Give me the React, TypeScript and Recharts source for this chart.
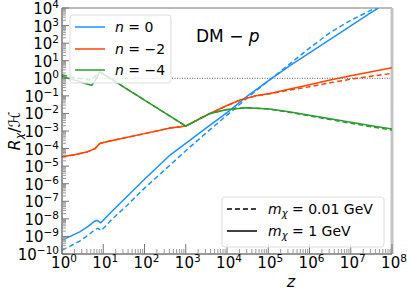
import React from "react";
import { LineChart, Line, XAxis, YAxis, ReferenceLine } from "recharts";

// all values are read as log10 exponents off the picture
const blueSolidZ = [0, 0.2, 0.44, 0.65, 0.78, 0.85, 0.94, 1.2, 1.57, 2.0, 2.62, 3.0, 3.5, 4.0, 4.5, 5.0, 5.5, 6.0, 6.5, 7.0, 7.5, 7.67];
const blueSolidR = [-9.2, -9.0, -8.73, -8.4, -8.15, -8.08, -8.22, -7.6, -6.74, -5.75, -4.37, -3.7, -2.82, -1.95, -1.0, -0.15, 0.68, 1.45, 2.22, 2.98, 3.75, 4.0];

const blueDashZ = [0, 0.2, 0.44, 0.65, 0.8, 0.87, 0.95, 1.2, 1.57, 2.0, 2.62, 3.02, 3.5, 4.0, 4.5, 5.0, 5.5, 6.0, 6.5, 7.0, 7.6];
const blueDashR = [-9.77, -9.55, -9.25, -8.9, -8.6, -8.54, -8.67, -8.05, -7.25, -6.25, -4.94, -4.08, -3.1, -2.1, -1.1, -0.15, 0.78, 1.72, 2.6, 3.3, 4.0];

const orangeSolidZ = [0, 0.3, 0.6, 0.8, 0.9, 0.95, 1.5, 2.0, 2.62, 3.0, 3.5, 4.0, 4.32, 4.7, 5.04, 5.5, 6.0, 6.5, 7.0, 7.5, 8.0];
const orangeSolidR = [-4.46, -4.35, -4.2, -4.0, -3.75, -3.68, -3.4, -3.15, -2.83, -2.72, -2.1, -1.55, -1.24, -1.0, -0.86, -0.62, -0.37, -0.1, 0.15, 0.37, 0.6];

const orangeDashZ = [0, 0.3, 0.6, 0.8, 0.9, 0.95, 1.5, 2.0, 2.62, 3.0, 3.5, 4.0, 4.32, 4.7, 5.04, 5.5, 6.0, 6.5, 7.0, 7.5, 8.0];
const orangeDashR = [-4.46, -4.35, -4.2, -4.0, -3.75, -3.68, -3.4, -3.15, -2.83, -2.72, -2.1, -1.55, -1.24, -1.0, -0.88, -0.68, -0.48, -0.26, -0.05, 0.12, 0.28];

const greenSolidZ = [0, 0.3, 0.5, 0.72, 0.8, 0.92, 1.2, 1.5, 2.0, 2.62, 3.0, 3.3, 3.6, 4.0, 4.48, 5.04, 5.5, 6.0, 6.5, 7.0, 7.5, 8.0];
const greenSolidR = [0.11, -0.1, -0.25, -0.4, -0.15, 0.36, -0.05, -0.5, -1.24, -2.16, -2.72, -2.35, -2.0, -1.78, -1.67, -1.75, -1.9, -2.1, -2.3, -2.5, -2.7, -2.89];

const greenDashZ = [0, 0.3, 0.64, 0.8, 0.92, 1.2, 1.5, 2.0, 2.62, 3.0, 3.3, 3.6, 4.0, 4.48, 5.04, 5.5, 6.0, 6.5, 7.0, 7.5, 8.0];
const greenDashR = [0.19, 0.05, -0.1, 0.1, 0.36, -0.05, -0.5, -1.24, -2.16, -2.72, -2.35, -2.0, -1.78, -1.67, -1.76, -1.93, -2.14, -2.35, -2.56, -2.76, -2.95];

const xMajorExp = [0, 1, 2, 3, 4, 5, 6, 7, 8];
const yMajorExp = [-10, -9, -8, -7, -6, -5, -4, -3, -2, -1, 0, 1, 2, 3, 4];
const minorSteps = [2, 3, 4, 5, 6, 7, 8, 9];

const BLUE = "#1E90FF";
const ORANGE = "#FF4500";
const GREEN = "#2F9A2F";
const FONT = "DejaVu Sans";

function toPoints(zExp: number[], rExp: number[]) {
  return zExp.map((e, i) => ({ z: 10 ** e, r: 10 ** rExp[i] }));
}

function logTicks(exps: number[]) {
  const out: number[] = [];
  exps.forEach((e, i) => {
    out.push(10 ** e);
    if (i < exps.length - 1) minorSteps.forEach((k) => out.push(k * 10 ** e));
  });
  return out;
}

function expOf(v: number) {
  const e = Math.log10(v);
  const r = Math.round(e);
  return Math.abs(e - r) < 1e-6 ? r : null;
}

function fmtExp(e: number) {
  return e < 0 ? "\u2212" + Math.abs(e) : String(e);
}

function YTick({ x, y, payload }: any) {
  const e = expOf(payload.value);
  const major = e !== null;
  return (
    <g>
      <line x1={x} x2={x + (major ? 7 : 4)} y1={y} y2={y} stroke={major ? "#777" : "#999"} strokeWidth={1} />
      {major && (
        <text x={x - 3} y={y + 6} textAnchor="end" fontSize={15} fontFamily={FONT} fill="#000">
          10<tspan dy={-6} fontSize={10.5}>{fmtExp(e as number)}</tspan>
        </text>
      )}
    </g>
  );
}

function XTick({ x, y, payload }: any) {
  const e = expOf(payload.value);
  const major = e !== null;
  return (
    <g>
      <line x1={x} x2={x} y1={y} y2={y - (major ? 10 : 5)} stroke={major ? "#777" : "#999"} strokeWidth={1} />
      {major && (
        <text x={x + 2} y={y + 14} textAnchor="middle" fontSize={15} fontFamily={FONT} fill="#000">
          10<tspan dy={-6} fontSize={10.5}>{fmtExp(e as number)}</tspan>
        </text>
      )}
    </g>
  );
}

export default function App() {
  const series = [
    { key: "bs", data: toPoints(blueSolidZ, blueSolidR), color: BLUE, dash: undefined },
    { key: "bd", data: toPoints(blueDashZ, blueDashR), color: BLUE, dash: "5 3" },
    { key: "os", data: toPoints(orangeSolidZ, orangeSolidR), color: ORANGE, dash: undefined },
    { key: "od", data: toPoints(orangeDashZ, orangeDashR), color: ORANGE, dash: "5 3" },
    { key: "gs", data: toPoints(greenSolidZ, greenSolidR), color: GREEN, dash: undefined },
    { key: "gd", data: toPoints(greenDashZ, greenDashR), color: GREEN, dash: "5 3" },
  ];

  return (
    <div style={{ position: "absolute", left: 0, top: 0, width: 407, height: 293, background: "#fff" }}>
      <LineChart width={407} height={293} margin={{ top: 8, right: 15, left: 0, bottom: 0 }}>
        <XAxis
          dataKey="z"
          type="number"
          scale="log"
          domain={[1, 1e8]}
          ticks={logTicks(xMajorExp)}
          interval={0}
          height={39}
          tickSize={0}
          tickMargin={0}
          tick={<XTick />}
          axisLine={{ stroke: "#333" }}
          allowDataOverflow
        />
        <YAxis
          dataKey="r"
          type="number"
          scale="log"
          domain={[1e-10, 1e4]}
          ticks={logTicks(yMajorExp)}
          interval={0}
          width={62}
          tickSize={0}
          tickMargin={0}
          tick={<YTick />}
          axisLine={{ stroke: "#333" }}
          allowDataOverflow
        />
        <ReferenceLine y={1} stroke="#333" strokeWidth={0.8} strokeDasharray="1 1.5" />
        <ReferenceLine y={1e4} stroke="#777" strokeWidth={1} />
        <ReferenceLine x={1e8} stroke="#c4c4c4" strokeWidth={3} />
        {series.map((s) => (
          <Line
            key={s.key}
            data={s.data}
            dataKey="r"
            type="linear"
            stroke={s.color}
            strokeWidth={1.5}
            strokeDasharray={s.dash}
            dot={false}
            activeDot={false}
            isAnimationActive={false}
          />
        ))}
      </LineChart>
      <svg width={407} height={293} style={{ position: "absolute", left: 0, top: 0, pointerEvents: "none" }} fontFamily={FONT}>
        <rect x={70} y={15} width={101} height={68} rx={3} fill="#fff" fillOpacity={0.8} stroke="#ddd" />
        {[
          { c: BLUE, t: "0", y: 27 },
          { c: ORANGE, t: "\u22122", y: 49 },
          { c: GREEN, t: "\u22124", y: 70 },
        ].map((e) => (
          <g key={e.t}>
            <line x1={75} x2={105} y1={e.y} y2={e.y} stroke={e.c} strokeWidth={1.5} />
            <text x={115} y={e.y + 5} fontSize={14} fill="#000">
              <tspan fontStyle="italic">n</tspan> = {e.t}
            </text>
          </g>
        ))}
        <text x={196} y={42} fontSize={17} fill="#000">
          DM {"\u2212"} <tspan fontStyle="italic">p</tspan>
        </text>
        <rect x={222} y={197} width={162} height={50} rx={3} fill="#fff" fillOpacity={0.8} stroke="#ddd" />
        <line x1={227} x2={257} y1={209} y2={209} stroke="#000" strokeWidth={1.5} strokeDasharray="5 3" />
        <text x={268} y={214} fontSize={14} fill="#000">
          <tspan fontStyle="italic">m</tspan>
          <tspan fontStyle="italic" fontSize={10} dy={3}>χ</tspan>
          <tspan dy={-3}> =  0.01 GeV</tspan>
        </text>
        <line x1={227} x2={257} y1={231} y2={231} stroke="#000" strokeWidth={1.5} />
        <text x={268} y={236} fontSize={14} fill="#000">
          <tspan fontStyle="italic">m</tspan>
          <tspan fontStyle="italic" fontSize={10} dy={3}>χ</tspan>
          <tspan dy={-3}> =  1 GeV</tspan>
        </text>
        <text x={291} y={287} fontSize={16} fontStyle="italic" textAnchor="middle" fill="#000">z</text>
        <text transform="translate(20,131) rotate(-90)" textAnchor="middle" fontSize={16} fill="#000">
          <tspan fontStyle="italic">R</tspan>
          <tspan fontStyle="italic" fontSize={11} dy={3}>χ</tspan>
          <tspan dy={-3}>/</tspan>
          <tspan fontStyle="italic" fontSize={16}>ℋ</tspan>
        </text>
      </svg>
    </div>
  );
}
